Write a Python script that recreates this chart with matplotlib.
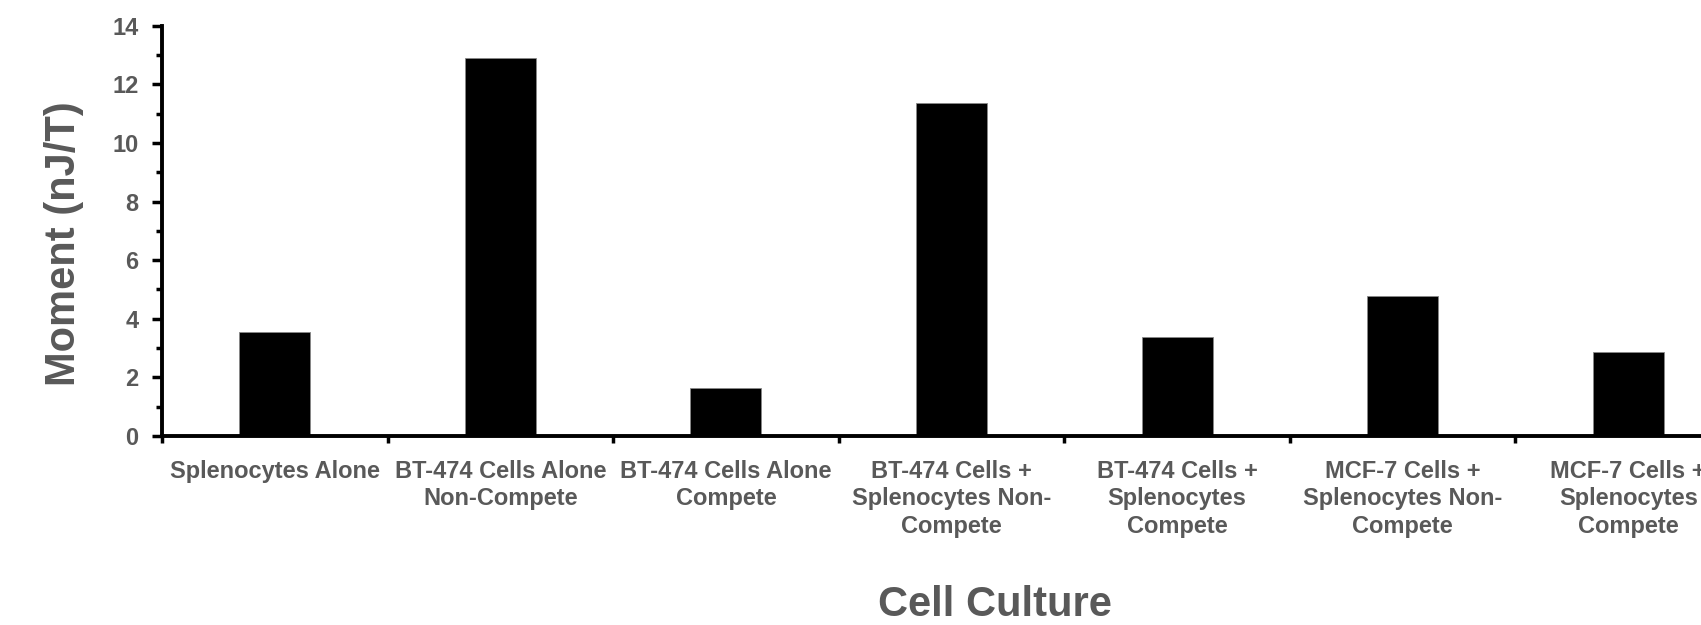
import numpy as np
import matplotlib
matplotlib.use("Agg")
import matplotlib.pyplot as plt
from matplotlib.ticker import MultipleLocator, FixedLocator

plt.rcParams['font.family'] = ['Liberation Sans', 'DejaVu Sans']
plt.rcParams['font.weight'] = 'bold'

# valori
categories = [
    "Splenocytes Alone",
    "BT-474 Cells Alone\nNon-Compete",
    "BT-474 Cells Alone\nCompete",
    "BT-474 Cells +\nSplenocytes Non-\nCompete",
    "BT-474 Cells +\nSplenocytes\nCompete",
    "MCF-7 Cells +\nSplenocytes Non-\nCompete",
    "MCF-7 Cells +\nSplenocytes\nCompete",
]
moment = [3.56, 12.89, 1.63, 11.37, 3.37, 4.76, 2.85]

grey = '#595959'
W, H = 1701, 625

fig = plt.figure(figsize=(W / 100, H / 100), dpi=100)
# l'asse x esce dal bordo destro come nell'originale
ax = fig.add_axes([162 / W, (H - 436) / H, (1741 - 162) / W, (436 - 25.7) / H])

n = len(categories)
centers = np.arange(n) + 0.5
ax.bar(centers, moment, width=0.315, color='black', edgecolor='#888888', linewidth=0.6, zorder=2)

ax.set_xlim(0, n)
ax.set_ylim(0, 14)

for s in ['top', 'right']:
    ax.spines[s].set_visible(False)
for s in ['left', 'bottom']:
    ax.spines[s].set_linewidth(2.8)
    ax.spines[s].set_color('black')
    ax.spines[s].set_zorder(3)

# tacche di confine tra categorie, etichette al centro
ax.xaxis.set_major_locator(FixedLocator(np.arange(n + 1)))
ax.xaxis.set_minor_locator(FixedLocator(centers))
ax.set_xticklabels([])
ax.set_xticklabels(categories, minor=True, linespacing=1.25, ha='center')
ax.tick_params(axis='x', which='major', direction='out', length=5, width=2.5, color='black')
ax.tick_params(axis='x', which='minor', length=0, pad=17, labelsize=17, labelcolor=grey)

ax.yaxis.set_major_locator(MultipleLocator(2))
ax.yaxis.set_minor_locator(MultipleLocator(1))
ax.tick_params(axis='y', which='major', direction='out', length=7, width=2.5, pad=10,
               labelsize=17, labelcolor=grey, color='black')
ax.tick_params(axis='y', which='minor', direction='out', length=4, width=2.5, color='black')

fig.text(64 / W, 1 - 244 / H, "Moment (nJ/T)", rotation=90, ha='center', va='center',
         fontsize=30, fontweight='bold', color=grey)
fig.text(995 / W, 1 - 605 / H, "Cell Culture", ha='center', va='center',
         fontsize=30, fontweight='bold', color=grey)

fig.savefig("out.png", dpi=100)
